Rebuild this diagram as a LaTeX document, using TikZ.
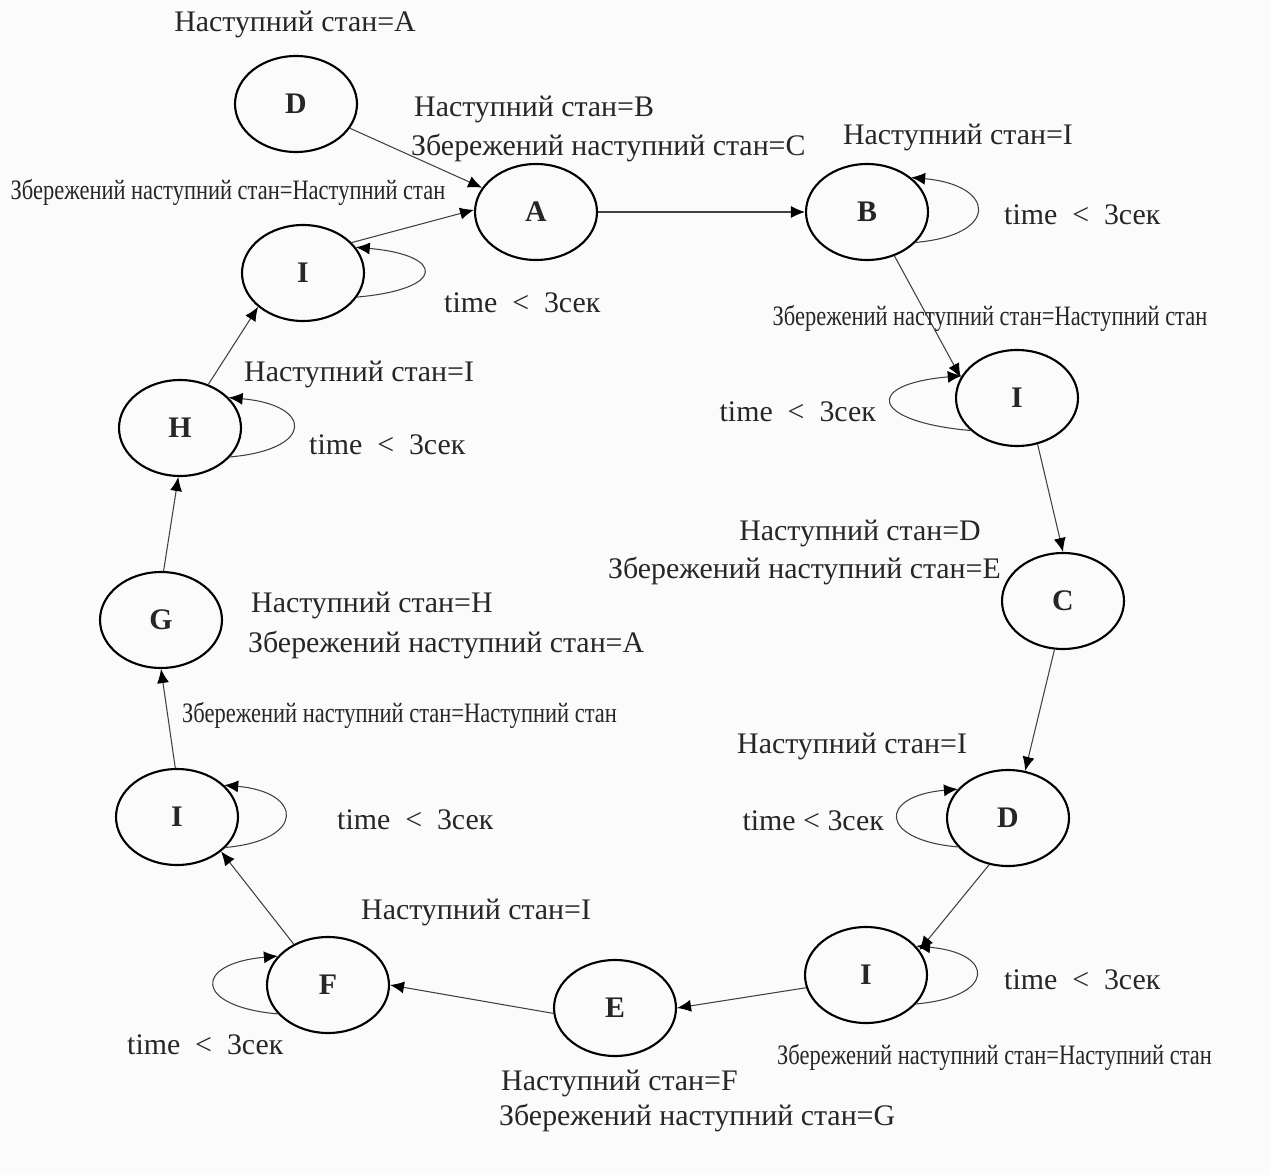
\documentclass[tikz,border=0pt]{standalone}
\usepackage{fontspec}
\setmainfont{Liberation Serif}
\usepackage{graphicx}
\usetikzlibrary{shapes.geometric,arrows.meta}
\newcommand{\squeezed}[1]{\scalebox{0.8}[1]{#1}}
\begin{document}
\begin{tikzpicture}[x=0.02cm,y=-0.02cm,>={Latex[length=2.8mm,width=2.4mm,color=black]},
  font=\fontsize{17}{20}\selectfont,text=black!85,
  state/.style={draw,line width=1.2pt,ellipse,minimum width=2.44cm,minimum height=1.92cm,inner sep=0pt,font=\fontsize{17}{20}\selectfont\bfseries},
  trans/.style={->,black!75,line width=0.6pt},
  loopr/.style={out=5,in=-5,distance=1.7cm},
  loopl/.style={out=175,in=185,distance=1.7cm},
  cond/.style={font=\fontsize{16}{19}\selectfont}]
  \fill[white!97!gray] (0,0) rectangle (1270,1175);
  % states
  \node[state] (Dt) at (296,104) {D};
  \node[state] (A) at (536,212) {A};
  \node[state] (B) at (867,212) {B};
  \node[state] (Ir) at (1017,398) {I};
  \node[state] (C) at (1063,601) {C};
  \node[state] (Dr) at (1008,818) {D};
  \node[state] (Ilr) at (866,975) {I};
  \node[state] (E) at (615,1008) {E};
  \node[state] (F) at (328,985) {F};
  \node[state] (Ill) at (177,817) {I};
  \node[state] (G) at (161,620) {G};
  \node[state] (H) at (180,428) {H};
  \node[state] (Iul) at (303,273) {I};
  % transitions
  \draw[trans] (Dt) -- (A);
  \draw[trans] (Iul.32) -- (A.178);
  \draw[trans] (A) -- (B);
  \draw[trans] (B.-58) -- (Ir.160);
  \draw[trans] (Ir.-66) -- (C.90);
  \draw[trans] (C.-100) -- (Dr.70);
  \draw[trans] (Dr.-112) -- (Ilr.25);
  \draw[trans] (Ilr.192) -- (E.0);
  \draw[trans] (E.185) -- (F.0);
  \draw[trans] (F.130) -- (Ill.-38);
  \draw[trans] (Ill.92) -- (G.-90);
  \draw[trans] (G.87) -- (H.-92);
  \draw[trans] (H.57) -- (Iul.217);
  % self loops
  \draw[trans] (Iul.-24) to[loopr,distance=1.8cm] (Iul.26);
  \draw[trans] (B.-32) to[loopr] (B.38);
  \draw[trans] (Ir.-145) to[loopl,distance=2cm] (Ir.158);
  \draw[trans] (H.-30) to[loopr] (H.32);
  \draw[trans] (Ill.-32) to[loopr,distance=1.6cm] (Ill.34);
  \draw[trans] (Dr.-150) to[loopl,distance=1.6cm] (Dr.150);
  \draw[trans] (Ilr.-30) to[loopr,distance=1.6cm] (Ilr.30);
  \draw[trans] (F.-150) to[loopl] (F.150);
  % labels
  \node (lDt) at (295,25) {Наступний стан=A};
  \node[anchor=west] (lA1) at (408,110) {Наступний стан=B};
  \node[anchor=west] (lA2) at (405,148) {Збережений наступний стан=C};
  \node[cond] (lIul) at (228,192) {\squeezed{Збережений наступний стан=Наступний стан}};
  \node (lB) at (958,138) {Наступний стан=I};
  \node[anchor=west] (tB) at (998,215) {time \ < \ 3сек};
  \node[cond] (lIr) at (990,318) {\squeezed{Збережений наступний стан=Наступний стан}};
  \node[anchor=east] (tIr) at (882,412) {time \ < \ 3сек};
  \node[anchor=west] (tIul) at (438,303) {time \ < \ 3сек};
  \node[anchor=west] (lH) at (238,375) {Наступний стан=I};
  \node[anchor=west] (tH) at (303,445) {time \ < \ 3сек};
  \node[anchor=east] (lC1) at (987,533) {Наступний стан=D};
  \node[anchor=east] (lC2) at (1007,571) {Збережений наступний стан=E};
  \node[anchor=west] (lG1) at (245,605) {Наступний стан=H};
  \node[anchor=west] (lG2) at (242,645) {Збережений наступний стан=A};
  \node[cond,anchor=west] (lIll) at (176,715) {\squeezed{Збережений наступний стан=Наступний стан}};
  \node[anchor=west] (lDr) at (731,746) {Наступний стан=I};
  \node[anchor=east] (tDr) at (890,821) {time < 3сек};
  \node[anchor=west] (tIll) at (331,820) {time \ < \ 3сек};
  \node[anchor=west] (lF) at (355,912) {Наступний стан=I};
  \node[anchor=west] (tIlr) at (998,980) {time \ < \ 3сек};
  \node[cond,anchor=west] (lIlr) at (771,1057) {\squeezed{Збережений наступний стан=Наступний стан}};
  \node[anchor=west] (tF) at (121,1045) {time \ < \ 3сек};
  \node[anchor=west] (lE1) at (495,1083) {Наступний стан=F};
  \node[anchor=west] (lE2) at (493,1118) {Збережений наступний стан=G};
\end{tikzpicture}
\end{document}
